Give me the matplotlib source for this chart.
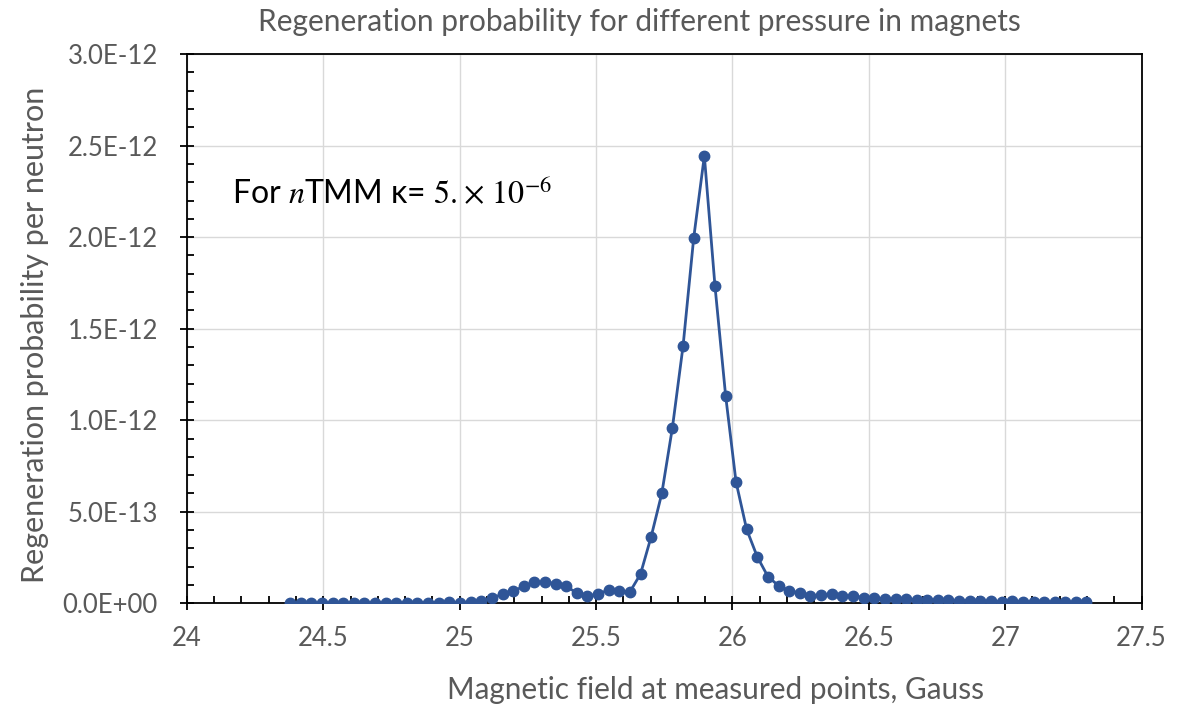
import numpy as np
import matplotlib
matplotlib.use('Agg')
import matplotlib.pyplot as plt
from matplotlib.ticker import MultipleLocator, FuncFormatter

plt.rcParams['font.family'] = ['Lato', 'DejaVu Sans']
plt.rcParams['mathtext.fontset'] = 'stix'

# magnetic field at the measured points (Gauss)
field = [24.378, 24.417, 24.456, 24.495, 24.534, 24.573, 24.612, 24.651,
         24.690, 24.729, 24.767, 24.806, 24.845, 24.884, 24.923, 24.962,
         25.001, 25.040, 25.079, 25.118, 25.157, 25.196, 25.235, 25.274,
         25.313, 25.352, 25.390, 25.429, 25.468, 25.507, 25.546, 25.585,
         25.624, 25.663, 25.702, 25.741, 25.780, 25.819, 25.858, 25.897,
         25.936, 25.975, 26.013, 26.052, 26.091, 26.130, 26.169, 26.208,
         26.247, 26.286, 26.325, 26.364, 26.403, 26.442, 26.481, 26.520,
         26.559, 26.598, 26.637, 26.675, 26.714, 26.753, 26.792, 26.831,
         26.870, 26.909, 26.948, 26.987, 27.026, 27.065, 27.104, 27.143,
         27.182, 27.221, 27.260, 27.298]

# regeneration probability per neutron, in units of 1e-13
prob_e13 = [0.01, 0.01, 0.01, 0.012, 0.012, 0.014, 0.014, 0.016,
            0.018, 0.02, 0.022, 0.024, 0.026, 0.03, 0.04, 0.05,
            0.04, 0.07, 0.14, 0.28, 0.50, 0.67, 0.92, 1.14,
            1.16, 1.08, 0.94, 0.56, 0.38, 0.52, 0.72, 0.66,
            0.62, 1.60, 3.64, 6.00, 9.60, 14.06, 19.96, 24.44,
            17.32, 11.34, 6.64, 4.04, 2.54, 1.46, 0.96, 0.69,
            0.56, 0.41, 0.46, 0.50, 0.38, 0.41, 0.31, 0.28,
            0.24, 0.22, 0.22, 0.18, 0.18, 0.18, 0.16, 0.14,
            0.14, 0.11, 0.11, 0.09, 0.11, 0.09, 0.07, 0.09,
            0.06, 0.06, 0.06, 0.06]
prob = np.array(prob_e13) * 1e-13

grey = '#595959'
blue = '#2F5597'

fig = plt.figure(figsize=(11.83, 7.11), dpi=100)
ax = fig.add_axes([0.158, 0.1515, 0.807, 0.7725])

ax.plot(field, prob, color=blue, lw=2, marker='o', ms=7.5, zorder=3)

ax.set_xlim(24, 27.5)
ax.set_ylim(0, 3e-12)
ax.xaxis.set_major_locator(MultipleLocator(0.5))
ax.xaxis.set_minor_locator(MultipleLocator(0.1))
ax.yaxis.set_major_locator(MultipleLocator(5e-13))
ax.yaxis.set_minor_locator(MultipleLocator(1e-13))
ax.xaxis.set_major_formatter(FuncFormatter(lambda v, p: '%g' % v))
ax.yaxis.set_major_formatter(FuncFormatter(lambda v, p: '{:.1E}'.format(v)))
ax.yaxis.get_offset_text().set_visible(False)
ax.xaxis.get_offset_text().set_visible(False)

ax.grid(True, which='major', color='#D9D9D9', lw=1, zorder=0)
ax.set_axisbelow(True)
for s in ax.spines.values():
    s.set_linewidth(1.3)
    s.set_color('black')

ax.tick_params(which='major', direction='inout', length=10, width=1.3,
               labelsize=18.5, labelcolor=grey)
ax.tick_params(which='minor', direction='in', length=5, width=1.3)
ax.tick_params(axis='x', which='major', pad=11)
ax.tick_params(axis='y', which='major', pad=16)

fig.text(639 / 1183, 1 - 22 / 711,
         'Regeneration probability for different pressure in magnets',
         fontsize=21.5, color=grey, ha='center', va='center')
fig.text(716 / 1183, 1 - 690 / 711,
         'Magnetic field at measured points, Gauss',
         fontsize=21.4, color=grey, ha='center', va='center')
fig.text(35 / 1183, 1 - 335 / 711,
         'Regeneration probability per neutron',
         fontsize=22, color=grey, ha='center', va='center', rotation=90)

ax.text(0.047, 0.747, 'For $n$TMM κ= $5.\\!\\times\\,10^{-6}$',
        transform=ax.transAxes, fontsize=23, color='black', va='center')

fig.savefig('out.png', dpi=100)
